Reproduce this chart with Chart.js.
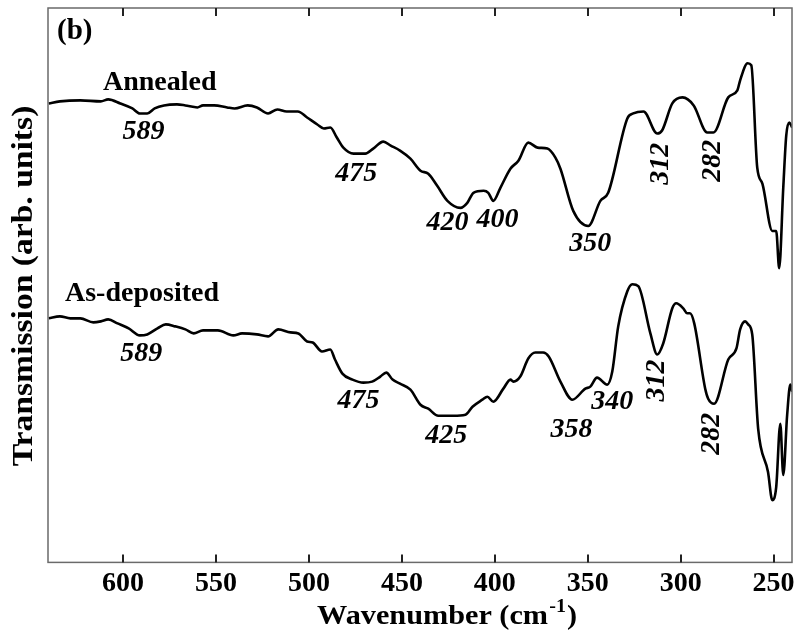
<!DOCTYPE html>
<html>
<head>
<meta charset="utf-8">
<title>Transmission spectra (b)</title>
<script src="https://cdn.jsdelivr.net/npm/chart.js@4/dist/chart.umd.min.js"></script>
<style>
  html, body { margin: 0; padding: 0; background: #fff; }
  #wrap { width: 802px; height: 641px; position: relative; }
</style>
</head>
<body>
<div id="wrap"><canvas id="spectra"></canvas></div>
<script>
/*-----data (wavenumber in cm-1, transmission in arb. units)-----*/
var annealedWn = [640, 634, 623, 612, 608, 601.5, 595, 591, 587, 583, 578, 571, 566.5, 560, 557, 551, 544, 540, 533, 528,
	522, 517, 512, 506, 501, 495.5, 492, 488.5, 485, 481.5, 476, 469.7, 465.4, 460, 456, 451, 445.4, 440, 435.8, 431,
	425.5, 418.5, 414.8, 411.5, 406, 403.5, 400.8, 397, 391.6, 387.3, 382, 377, 371.7, 367.4, 364.7, 357.8, 349.7, 343.2, 339, 328.7,
	325.5, 320, 312.6, 310, 304.5, 299, 293, 285.7, 282.4, 274.4, 269.5, 268, 264, 262, 258.8, 256, 250.7, 248.6, 247, 244.8,
	243.2, 241.6, 240];
var annealedT = [457, 459, 460, 459, 461, 457, 452, 447, 447, 452, 455, 456, 455, 453, 455, 455, 453, 452, 455, 453,
	447, 451, 449, 449, 443, 436, 432, 433, 423, 413, 407, 407, 412, 419, 415, 410, 402, 390, 387, 375,
	360, 353, 358, 368, 370, 368, 360, 373, 392, 400, 418, 413, 412, 403, 392, 350, 335, 360, 368, 442,
	447, 449, 427, 430, 457, 463, 455, 428, 428, 463, 470, 480, 497, 495, 393, 377, 330, 330, 293, 373,
	425, 438, 433];

var depositedWn = [640, 634, 628.4, 623, 616, 612, 608, 603, 597, 591, 587, 581.5, 577, 572, 566.5, 562, 557, 549, 540.7, 536,
	528, 522, 516.5, 510, 505.7, 501, 498, 493, 488.5, 486, 482, 476.6, 470.7, 466, 461.6, 458.4, 455, 451, 445.4, 440,
	435.8, 430.4, 422.3, 415.8, 412, 406.7, 404, 400.8, 395.4, 391.6, 390, 386.3, 382, 378.2, 374, 371, 364.7, 358.3, 351.3, 348.6,
	345, 339.5, 336.8, 333.6, 328.7, 326, 322.8, 316.3, 312.6, 309.4, 304.5, 302.4, 298.6, 296.5, 295, 292.7, 286.8, 285.2, 282, 274.4,
	270, 268, 265.3, 263.7, 261.5, 258.3, 253, 250.7, 248.6, 246.4, 244.8, 242.7, 241, 240];
var depositedT = [243, 245, 243, 243, 239, 240, 242, 238, 233, 226, 227, 233, 237, 235, 232, 228, 231, 231, 226, 228,
	227, 225, 232, 229, 228, 220, 219, 210, 212, 202, 188, 182, 179, 180, 185, 189, 182, 178, 172, 157,
	153, 146, 146, 147, 155, 162, 165, 160, 173, 182, 180, 185, 203, 209, 209, 205, 180, 162, 173, 175,
	184, 177, 190, 235, 270, 277, 275, 228, 207, 218, 253, 258, 253, 248, 248, 238, 173, 163, 158, 202,
	213, 232, 240, 237, 227, 133, 90, 62, 75, 138, 87, 147, 177, 170];

var xTicks = [600, 550, 500, 450, 400, 350, 300, 250];

// peak labels: text, wavenumber, transmission, rotated
var peakText = ['589', '475', '420', '400', '350', '312', '282',
	'589', '475', '425', '358', '340', '312', '282'];
var peakWn = [589, 474.5, 425.5, 398.6, 348.6, 310.9, 282.9,
	590.2, 473.4, 426.1, 358.8, 336.8, 313.1, 283.4];
var peakT = [422, 380, 331, 334, 310, 397, 400,
	201, 154, 119, 125, 153, 181, 128];
var peakRot = [false, false, false, false, false, true, true,
	false, false, false, false, false, true, true];
/*-----data-----*/

function toPoints(xs, ys) {
	return xs.map(function(x, i) { return { x: x, y: ys[i] }; });
}

var serif = "'Liberation Serif', 'Times New Roman', serif";

var decorPlugin = {
	id: 'decor',
	afterDraw: function(chart) {
		var ctx = chart.ctx;
		var a = chart.chartArea;
		var xs = chart.scales.x, ys = chart.scales.y;
		ctx.save();

		// frame
		ctx.strokeStyle = '#6a6a6a';
		ctx.lineWidth = 1.5;
		ctx.strokeRect(a.left, a.top, a.right - a.left, a.bottom - a.top);

		// inward ticks top & bottom
		ctx.strokeStyle = '#222';
		ctx.lineWidth = 2;
		xTicks.forEach(function(v) {
			var px = Math.round(xs.getPixelForValue(v));
			ctx.beginPath();
			ctx.moveTo(px, a.bottom); ctx.lineTo(px, a.bottom - 8);
			ctx.moveTo(px, a.top); ctx.lineTo(px, a.top + 8);
			ctx.stroke();
		});

		ctx.fillStyle = '#000';

		// panel + sample labels
		ctx.textAlign = 'left';
		ctx.textBaseline = 'alphabetic';
		ctx.font = 'bold 29px ' + serif;
		ctx.fillText('(b)', 57, 39);
		ctx.font = 'bold 28px ' + serif;
		ctx.fillText('Annealed', 103, 90);
		ctx.fillText('As-deposited', 65, 301);

		// peak labels
		ctx.font = 'italic bold 28px ' + serif;
		peakText.forEach(function(t, i) {
			var px = xs.getPixelForValue(peakWn[i]);
			var py = ys.getPixelForValue(peakT[i]);
			ctx.save();
			ctx.translate(px, py);
			if (peakRot[i]) {
				ctx.rotate(-Math.PI / 2);
				ctx.textAlign = 'center';
				ctx.textBaseline = 'middle';
			} else {
				ctx.textAlign = 'center';
				ctx.textBaseline = 'alphabetic';
			}
			ctx.fillText(t, 0, 0);
			ctx.restore();
		});

		// x title with superscript
		ctx.save();
		ctx.translate(446, 624);
		ctx.scale(1.12, 1);
		ctx.font = 'bold 27px ' + serif;
		var main = 'Wavenumber (cm';
		var wMain = ctx.measureText(main).width;
		ctx.font = 'bold 18px ' + serif;
		var wSup = ctx.measureText('-1').width;
		ctx.font = 'bold 27px ' + serif;
		var wEnd = ctx.measureText(')').width;
		var x0 = -(wMain + wSup + wEnd) / 2;
		ctx.textAlign = 'left';
		ctx.fillText(main, x0, 0);
		ctx.font = 'bold 18px ' + serif;
		ctx.fillText('-1', x0 + wMain + 1, -12);
		ctx.font = 'bold 27px ' + serif;
		ctx.fillText(')', x0 + wMain + wSup + 2, 0);
		ctx.restore();

		// y title
		ctx.save();
		ctx.translate(32, 286);
		ctx.rotate(-Math.PI / 2);
		ctx.scale(1.12, 1);
		ctx.font = 'bold 30px ' + serif;
		ctx.textAlign = 'center';
		ctx.textBaseline = 'alphabetic';
		ctx.fillText('Transmission (arb. units)', 0, 0);
		ctx.restore();

		ctx.restore();
	}
};

var ctx = document.getElementById('spectra').getContext('2d');
new Chart(ctx, {
	type: 'line',
	data: {
		datasets: [{
			label: 'Annealed',
			data: toPoints(annealedWn, annealedT),
			borderColor: '#000',
			borderWidth: 2.6,
			pointRadius: 0,
			fill: false,
			cubicInterpolationMode: 'monotone'
		}, {
			label: 'As-deposited',
			data: toPoints(depositedWn, depositedT),
			borderColor: '#000',
			borderWidth: 2.6,
			pointRadius: 0,
			fill: false,
			cubicInterpolationMode: 'monotone'
		}]
	},
	options: {
		responsive: true,
		maintainAspectRatio: false,
		animation: false,
		layout: {
			padding: { left: 48, top: 8, right: 10, bottom: 35 }
		},
		plugins: {
			legend: { display: false },
			tooltip: { enabled: false }
		},
		scales: {
			x: {
				type: 'linear',
				reverse: true,
				min: 240.1,
				max: 640.4,
				afterBuildTicks: function(axis) {
					axis.ticks = xTicks.map(function(v) { return { value: v }; });
				},
				grid: { display: false, drawTicks: false },
				border: { display: false },
				ticks: {
					padding: 5,
					maxRotation: 0,
					autoSkip: false,
					color: '#000',
					font: { family: serif, size: 28, weight: 'bold' }
				}
			},
			y: {
				type: 'linear',
				min: 0,
				max: 552,
				display: false
			}
		}
	},
	plugins: [decorPlugin]
});
</script>
</body>
</html>
